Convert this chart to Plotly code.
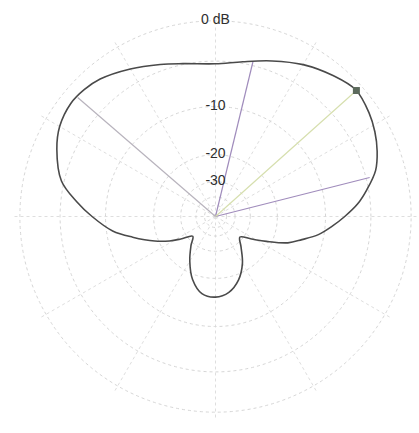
import plotly.graph_objects as go

# Measured directivity (compass bearing in degrees, level in dB)
pattern_deg = [0, 10, 20, 30, 40, 48, 56, 62, 68, 74, 80, 85, 90, 95, 100, 105, 110, 116, 122,
               130, 140, 150, 160, 170, 180, 190, 200, 210, 220, 229, 237, 242, 248, 256,
               262, 270, 276, 283, 293, 300, 308, 314, 320, 330, 340, 348, 360]
pattern_db = [-4.3, -3.8, -2.9, -1.9, -1.1, -0.6, -0.95, -1.4, -2.0, -2.8, -4.2, -5.5, -7.2,
              -9.0, -10.9, -13.6, -16.2, -21.5, -26.5, -31.5, -27.7, -22.4, -18.5, -16.2,
              -15.4, -15.9, -18.6, -23.2, -28.4, -32.5, -27.0, -23.0, -19.0, -14.4, -11.0,
              -8.0, -5.9, -3.7, -2.2, -1.45, -1.1, -1.2, -1.5, -2.4, -3.3, -3.9, -4.3]

# Main-lobe maximum, half-power (-3 dB) edges and rear side-lobe maximum
peak_deg, peak_db = 48.2, -0.6
half_power_deg = [13.6, 75.8]
half_power_db = [-3.55, -3.6]
side_peak_deg, side_peak_db = 310.8, -1.25

# Level rings and their labels
ring_db = [0, -4, -10, -20, -30, -40, -50]
label_db = [0, -10, -20, -30]
label_text = ["0 dB", "-10", "-20", "-30"]


def to_r(db):
    # radial position grows with 10^(dB/40)
    return 10 ** (db / 40.0)


fig = go.Figure()

# rays from the origin
for deg, db in zip(half_power_deg, half_power_db):
    fig.add_trace(go.Scatterpolar(r=[0, to_r(db)], theta=[deg, deg], mode="lines",
                                  line=dict(color="#a08cbc", width=1.2),
                                  hoverinfo="skip", showlegend=False))
fig.add_trace(go.Scatterpolar(r=[0, to_r(side_peak_db)], theta=[side_peak_deg] * 2,
                              mode="lines", line=dict(color="#b8b3bd", width=1.2),
                              hoverinfo="skip", showlegend=False))
fig.add_trace(go.Scatterpolar(r=[0, to_r(peak_db)], theta=[peak_deg] * 2, mode="lines",
                              line=dict(color="#d6dfae", width=1.2),
                              hoverinfo="skip", showlegend=False))

# pattern outline
fig.add_trace(go.Scatterpolar(r=[to_r(v) for v in pattern_db], theta=pattern_deg,
                              mode="lines", line=dict(color="#4a4a4a", width=1.6,
                                                      shape="spline", smoothing=1.0),
                              showlegend=False))

# maximum marker
fig.add_trace(go.Scatterpolar(r=[to_r(peak_db)], theta=[peak_deg], mode="markers",
                              marker=dict(symbol="square", size=7, color="#5c6a5c"),
                              showlegend=False))

# ring labels along the 0° direction
fig.add_trace(go.Scatterpolar(r=[to_r(v) for v in label_db], theta=[0] * len(label_db),
                              mode="text", text=label_text, textposition="middle center",
                              textfont=dict(family="Liberation Sans, Arial", size=14,
                                            color="#2e2e2e"),
                              hoverinfo="skip", showlegend=False))

fig.update_layout(
    width=419, height=433,
    margin=dict(l=14, r=2, t=15, b=15),
    paper_bgcolor="white",
    plot_bgcolor="white",
    polar=dict(
        bgcolor="white",
        radialaxis=dict(range=[0, 1.03], tickvals=[to_r(v) for v in ring_db],
                        showticklabels=False, ticks="", showline=False,
                        gridcolor="#d6d6d6", griddash="dot", gridwidth=1),
        angularaxis=dict(rotation=90, direction="clockwise", dtick=30,
                         showticklabels=False, ticks="", showline=False,
                         gridcolor="#dedede", griddash="dot", gridwidth=1),
    ),
)

fig.write_html("out.html")
